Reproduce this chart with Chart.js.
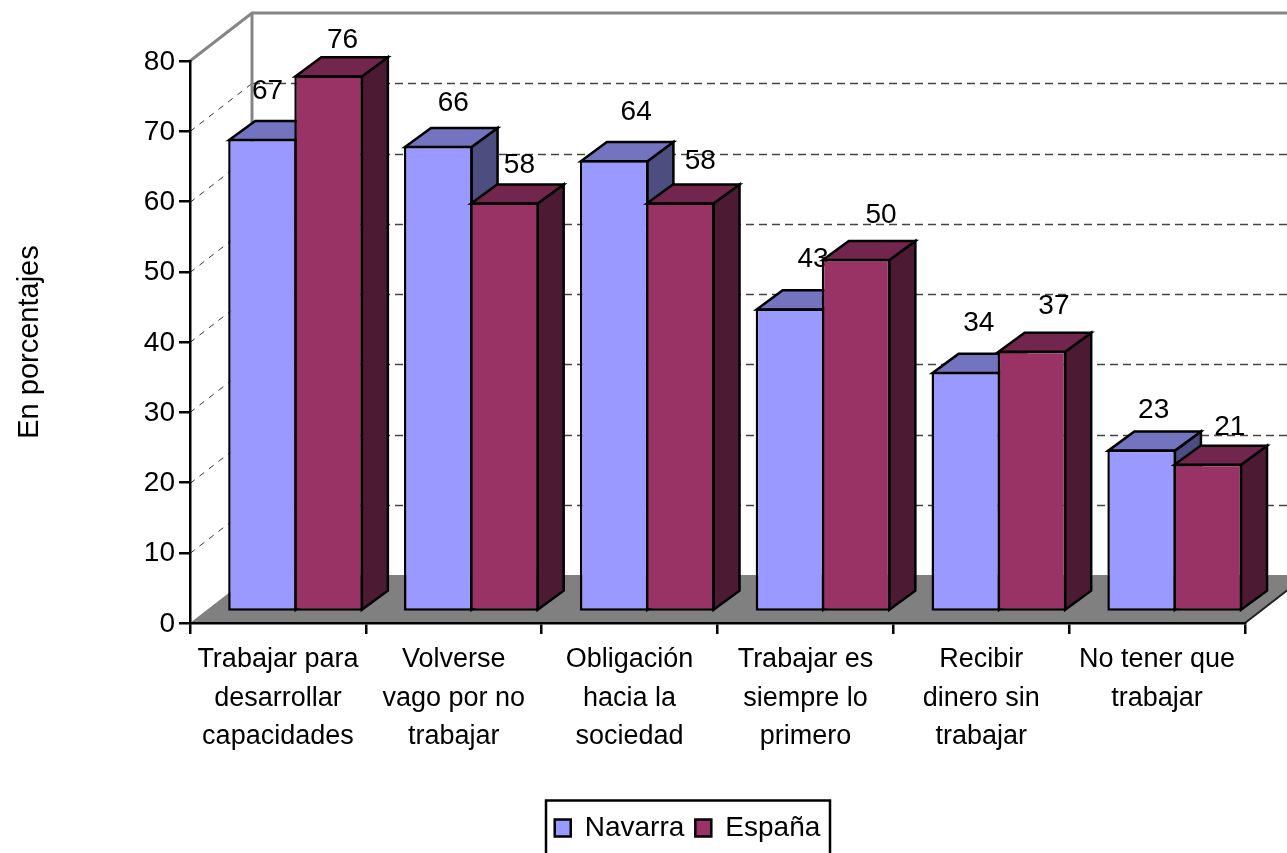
<!DOCTYPE html>
<html>
<head>
<meta charset="utf-8">
<style>html,body{margin:0;padding:0;background:#fff;overflow:hidden}canvas{display:block}</style>
<script src="https://cdn.jsdelivr.net/npm/chart.js@4/dist/chart.umd.min.js"></script>
</head>
<body>
<canvas id="c" width="1287" height="853"></canvas>
<script>
const categories = [
  ["Trabajar para","desarrollar","capacidades"],
  ["Volverse","vago por no","trabajar"],
  ["Obligación","hacia la","sociedad"],
  ["Trabajar es","siempre lo","primero"],
  ["Recibir","dinero sin","trabajar"],
  ["No tener que","trabajar"]
];
const navarra = [67, 66, 64, 43, 34, 23];
const espana = [76, 58, 58, 50, 37, 21];
const yTicks = [0, 10, 20, 30, 40, 50, 60, 70, 80];
const yTitle = "En porcentajes";

const FONT = "'Liberation Sans', Arial, sans-serif";

const scene3d = {
  id: 'scene3d',
  beforeDraw(chart, _a, o) {
    const {ctx, scales: {x, y}} = chart;
    const L = x.left, R = x.right, B = y.bottom, T = y.top;
    const dx = o.wall[0], dy = o.wall[1];
    ctx.save();
    // floor
    ctx.fillStyle = '#808080';
    ctx.beginPath();
    ctx.moveTo(L, B); ctx.lineTo(L + dx, B + dy); ctx.lineTo(R + dx, B + dy); ctx.lineTo(R, B);
    ctx.closePath(); ctx.fill();
    ctx.strokeStyle = '#222'; ctx.lineWidth = 2;
    ctx.beginPath(); ctx.moveTo(R, B); ctx.lineTo(R + dx, B + dy); ctx.stroke();
    // dashed grid on both walls
    yTicks.forEach(v => {
      if (v === 0 || v === 80) return;
      const py = Math.round(y.getPixelForValue(v)) + 0.5;
      ctx.lineWidth = 1;
      ctx.strokeStyle = '#333';
      ctx.setLineDash([6, 6]);
      ctx.beginPath(); ctx.moveTo(L, py); ctx.lineTo(L + dx, py + dy); ctx.stroke();
      ctx.lineWidth = 1.3;
      ctx.strokeStyle = '#444';
      ctx.setLineDash([8, 5]);
      ctx.beginPath(); ctx.moveTo(L + dx, py + dy); ctx.lineTo(R + dx, py + dy); ctx.stroke();
    });
    ctx.setLineDash([]);
    // wall frame
    ctx.strokeStyle = '#868686'; ctx.lineWidth = 3;
    ctx.beginPath();
    ctx.moveTo(L, T); ctx.lineTo(L + dx, T + dy); ctx.lineTo(R + dx, T + dy);
    ctx.moveTo(L + dx, T + dy); ctx.lineTo(L + dx, B + dy);
    ctx.stroke();
    ctx.restore();
  },
  beforeDatasetsDraw(chart, _a, o) {
    const ctx = chart.ctx;
    const B = chart.scales.y.bottom;
    const [sx, sy] = o.shift, [bx, by] = o.depth;
    chart.getSortedVisibleDatasetMetas().forEach(meta => {
      const i = meta.index;
      ctx.save();
      // the bars stand a little in front of the axis plane, so they read slightly larger
      ctx.translate(sx, sy + (1 - o.near) * B);
      ctx.scale(1, o.near);
      ctx.strokeStyle = '#000'; ctx.lineWidth = 2.5; ctx.lineJoin = 'miter';
      meta.data.forEach(el => {
        const l = el.x - el.width / 2, r = el.x + el.width / 2, t = el.y, b = el.base;
        const face = (pts, col) => {
          ctx.fillStyle = col; ctx.beginPath();
          pts.forEach((p, k) => k ? ctx.lineTo(p[0], p[1]) : ctx.moveTo(p[0], p[1]));
          ctx.closePath(); ctx.fill(); ctx.stroke();
        };
        face([[r - 1, b - 1], [r - 1 + bx, b - 1 + by], [r - 1 + bx, t + 1 + by], [r - 1, t + 1]], o.side[i]);
        face([[l + 1, t + 1], [l + 1 + bx, t + 1 + by], [r - 1 + bx, t + 1 + by], [r - 1, t + 1]], o.top[i]);
      });
      meta.controller.draw();
      ctx.restore();
      // value labels, painted before the next series so it may cover them
      ctx.save();
      ctx.fillStyle = '#000';
      ctx.font = '28px ' + FONT;
      ctx.textAlign = 'center'; ctx.textBaseline = 'middle';
      meta.data.forEach((el, k) => {
        const n = o.nudge[i][k];
        ctx.fillText(String(chart.data.datasets[i].data[k]), el.x + sx + n[0], el.y + sy + n[1]);
      });
      ctx.restore();
    });
    return false;
  },
  afterLayout(chart, _a, o) {
    const lg = chart.legend;
    lg.left += o.legendShift; lg.right += o.legendShift;
  },
  afterDraw(chart) {
    const {ctx, legend} = chart;
    const hb = legend.legendHitBoxes;
    const first = hb[0], last = hb[hb.length - 1];
    const left = Math.round(first.left) - 9, right = Math.round(last.left + last.width) + 10;
    ctx.save();
    ctx.strokeStyle = '#000'; ctx.lineWidth = 2.5;
    ctx.strokeRect(left, legend.top - 2.5, right - left, 70);
    ctx.restore();
  }
};

new Chart(document.getElementById('c'), {
  type: 'bar',
  plugins: [scene3d],
  data: {
    labels: categories,
    datasets: [
      {label: 'Navarra', data: navarra, backgroundColor: '#9999FF', borderColor: '#000', borderWidth: 2.5, borderSkipped: false, clip: false},
      {label: 'España', data: espana, backgroundColor: '#993366', borderColor: '#000', borderWidth: 2.5, borderSkipped: false, clip: false}
    ]
  },
  options: {
    responsive: false,
    animation: false,
    events: [],
    layout: {padding: {top: 61, right: 42, left: 0, bottom: 1}},
    categoryPercentage: 0.752,
    barPercentage: 1.037,
    scales: {
      x: {
        afterFit(s) { s.height = 180; },
        border: {color: '#000', width: 2.5},
        grid: {drawOnChartArea: false, color: '#000', lineWidth: 2.5, tickLength: 11, tickWidth: 2.5},
        ticks: {color: '#000', font: {family: FONT, size: 27, lineHeight: 1.41}, maxRotation: 0, minRotation: 0, autoSkip: false, padding: 7}
      },
      y: {
        min: 0, max: 80,
        afterFit(s) { s.width = 190; },
        afterBuildTicks(s) { s.ticks = yTicks.map(v => ({value: v})); },
        title: {display: true, text: yTitle, color: '#000', font: {family: FONT, size: 29}, padding: {top: 13, bottom: 0}},
        border: {color: '#000', width: 2.5},
        grid: {drawOnChartArea: false, color: '#000', lineWidth: 2.5, tickLength: 11, tickWidth: 2.5},
        ticks: {color: '#000', font: {family: FONT, size: 28}, padding: 4, labelOffset: 1}
      }
    },
    plugins: {
      tooltip: {enabled: false},
      legend: {
        position: 'bottom',
        labels: {color: '#000', font: {family: FONT, size: 28}, boxWidth: 16, boxHeight: 17, padding: 11}
      },
      scene3d: {
        wall: [62, -48],
        shift: [17.6, -11],
        near: 1.005,
        depth: [26, -19],
        side: ['#4D4D80', '#4D1A33'],
        top: ['#7373BF', '#73264D'],
        legendShift: 65,
        nudge: [
          [[5,-50],[15,-45],[22,-50],[23,-51],[13,-50],[12,-40]],
          [[14,-38],[15,-39],[20,-43],[25,-45],[22,-46],[22,-37]]
        ]
      }
    }
  }
});
</script>
</body>
</html>
